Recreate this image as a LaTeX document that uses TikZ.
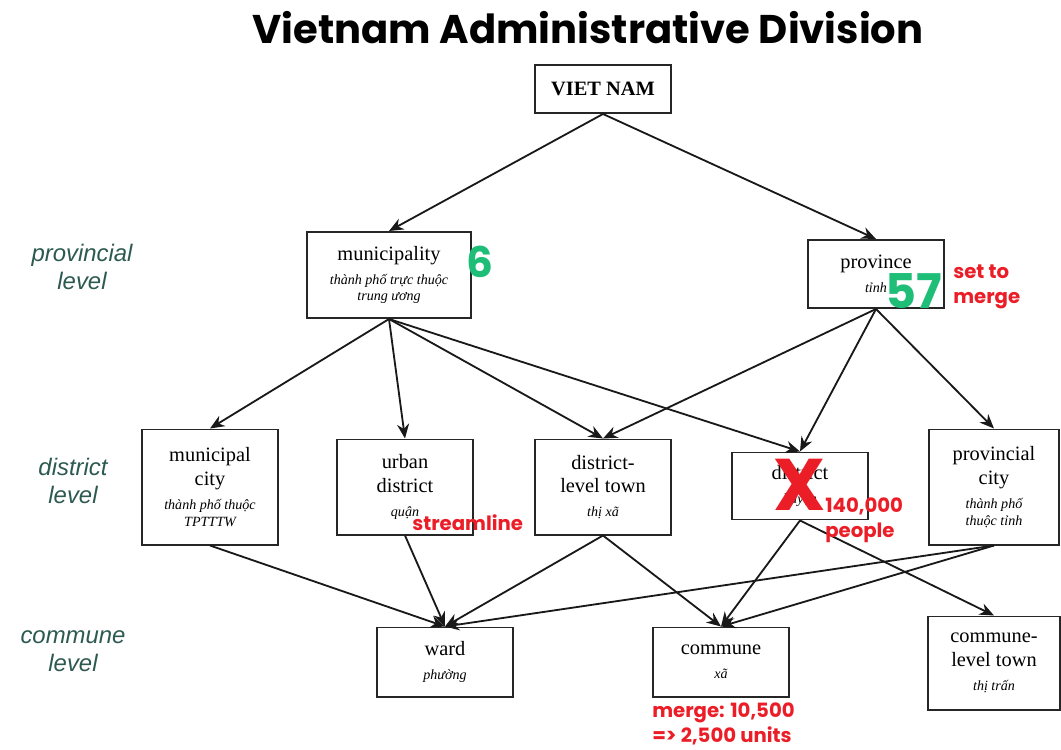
\documentclass[tikz,border=0pt]{standalone}
\usepackage{fontspec}
\setmainfont{Liberation Serif}
\newfontfamily\popfont{Poppins}
\newfontfamily\levfont{Liberation Sans}
\usetikzlibrary{arrows.meta,positioning}
\definecolor{notered}{RGB}{235,30,40}
\definecolor{countgreen}{RGB}{30,190,120}
\definecolor{levelteal}{RGB}{45,90,80}
\def\vn(#1){{\fontsize{10}{12}\selectfont\itshape #1}}
\tikzstyle{unit} = [draw=black!85, line width=1.4pt, fill=white, align=center, minimum width=3.4cm, inner sep=2pt, font=\fontsize{14.5}{17}\selectfont]
\tikzstyle{arrow} = [line width=1.3pt, black!90, -{Stealth[length=3.6mm,width=3mm]}]
\tikzstyle{level} = [font=\levfont\itshape\fontsize{17}{20}\selectfont, text=levelteal, align=center]
\tikzstyle{note} = [font=\popfont\bfseries\fontsize{14}{17.5}\selectfont, text=notered, align=left, inner sep=0pt]
\tikzstyle{count} = [font=\popfont\bfseries\fontsize{30}{30}\selectfont, text=countgreen, inner sep=0pt]

\begin{document}
\begin{tikzpicture}[x=0.025cm, y=-0.025cm]
\useasboundingbox (0,0) rectangle (1061,750);
\node (title) at (588,28) {\popfont\bfseries\fontsize{28.5}{32}\selectfont Vietnam Administrative Division};
% level captions
\node[level] (lprov) at (82,267) {provincial\\level};
\node[level] (ldist) at (73,481) {district\\level};
\node[level] (lcomm) at (73,651) {commune\\level};
% top
\node[unit, minimum height=1.2cm] (vn) at (603,89) {\textbf{VIET NAM}};
% provincial level
\node[unit, minimum width=4.1cm, minimum height=2.15cm] (muni) at (389,275) {municipality\\\vn(thành phố trực thuộc)\\[-5pt]\vn(trung ương)};
\node[unit, minimum height=1.7cm] (prov) at (876,274) {province\\\vn(tỉnh)};
% district level
\node[unit, minimum height=2.875cm] (mcity) at (210,487) {municipal\\city\\\vn(thành phố thuộc)\\[-5pt]\vn(TPTTTW)};
\node[unit, minimum height=2.375cm] (urban) at (405,487) {urban\\district\\\vn(quận)};
\node[unit, minimum height=2.375cm] (dtown) at (603,487) {district-\\level town\\\vn(thị xã)};
\node[unit, minimum height=1.675cm] (dist) at (800,486) {district\\\vn(huyện)};
\node[unit, minimum width=3.25cm, minimum height=2.875cm] (pcity) at (994,487) {provincial\\city\\\vn(thành phố)\\[-5pt]\vn(thuộc tỉnh)};
% commune level
\node[unit, minimum height=1.725cm] (ward) at (445,662) {ward\\\vn(phường)};
\node[unit, minimum height=1.725cm] (comm) at (721,662) {commune\\\vn(xã)};
\node[unit, minimum width=3.3cm, minimum height=2.325cm] (ctown) at (994,663) {commune-\\level town\\\vn(thị trấn)};
% links
\draw[arrow] (vn.south) -- (muni.north);
\draw[arrow] (vn.south) -- (prov.north);
\draw[arrow] (muni.south) -- (mcity.north);
\draw[arrow] (muni.south) -- (urban.north);
\draw[arrow] (muni.south) -- (dtown.north);
\draw[arrow] (muni.south) -- (dist.north);
\draw[arrow] (prov.south) -- (dtown.north);
\draw[arrow] (prov.south) -- (dist.north);
\draw[arrow] (prov.south) -- (pcity.north);
\draw[arrow] (mcity.south) -- (ward.north);
\draw[arrow] (urban.south) -- (ward.north);
\draw[arrow] (dtown.south) -- (ward.north);
\draw[arrow] (dtown.south) -- (comm.north);
\draw[arrow] (dist.south) -- (comm.north);
\draw[arrow] (dist.south) -- (ctown.north);
\draw[arrow] (pcity.south) -- (ward.north);
\draw[arrow] (pcity.south) -- (comm.north);
% counts and notes
\node[count] (six) at (480,262) {6};
\node[count, font=\popfont\bfseries\fontsize{34}{34}\selectfont] (fifty) at (914,291) {57};
\node[note, anchor=west] (merge) at (953,287) {set to\\merge};
\node[note, anchor=west] (slim) at (412,523) {streamline};
\node[text=notered, inner sep=0pt, font=\popfont\bfseries\fontsize{52}{52}\selectfont] (cross) at (800,485) {X};
\node[note, anchor=west] (people) at (825,520) {140,000\\people};
\node[note, anchor=north west] (units) at (652,703) {merge: 10,500\\=> 2,500 units};
\end{tikzpicture}
\end{document}
